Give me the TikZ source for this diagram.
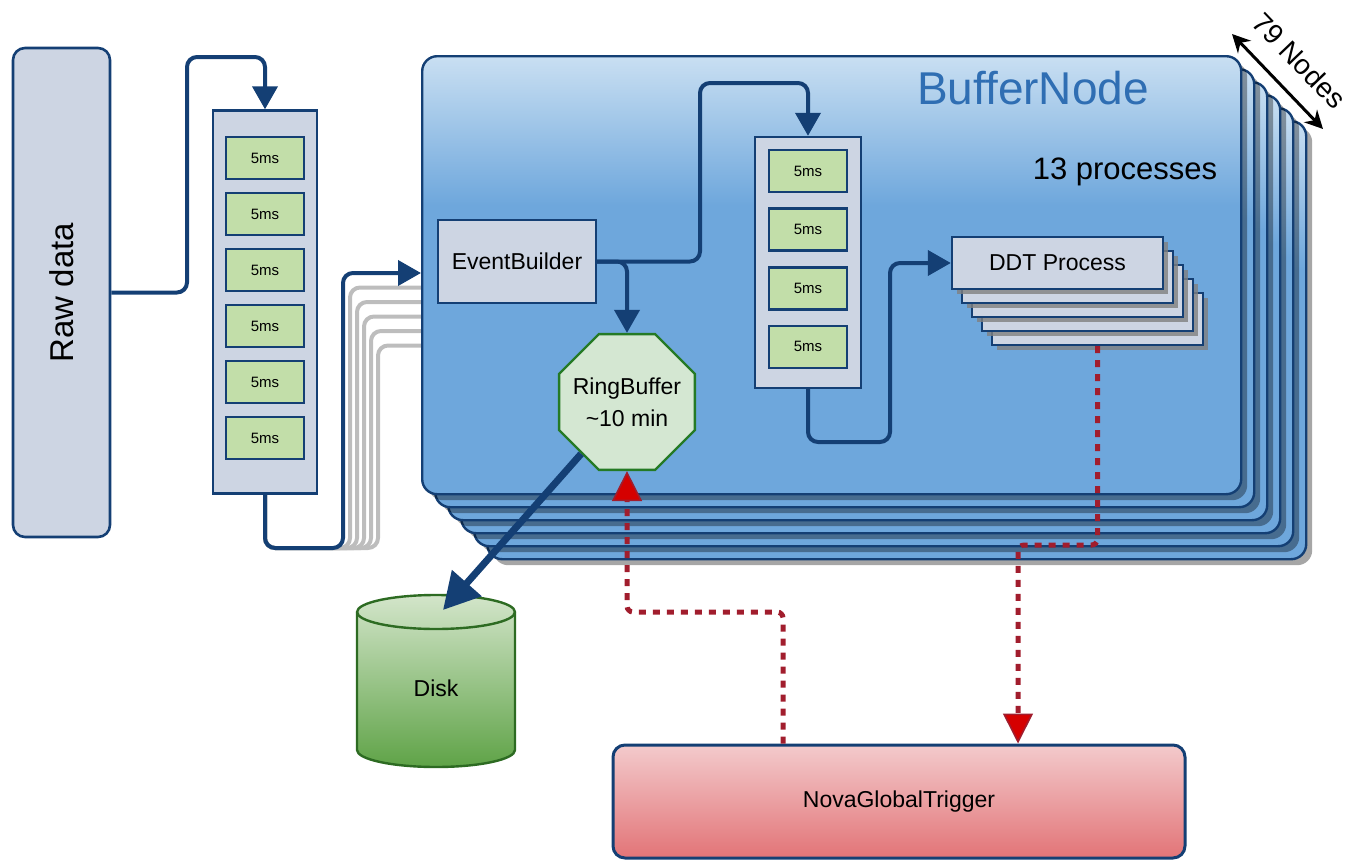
\documentclass[tikz,border=0pt]{standalone}
\usepackage{fontspec}
\setmainfont{Liberation Sans}
\usepackage{graphicx}
\usepackage{tikz}
\usetikzlibrary{arrows.meta, positioning, calc, shapes.geometric, shadows}
\pgfdeclarelayer{background}
\pgfsetlayers{background,main}

% colours
\definecolor{navy}{HTML}{143F74}
\definecolor{boxgray}{HTML}{CDD5E3}
\definecolor{cellgreen}{HTML}{C2DEA9}
\definecolor{bufblue}{HTML}{6EA7DC}
\definecolor{buftop}{HTML}{C9DFF2}
\definecolor{titleblue}{HTML}{2F6EB3}
\definecolor{ringfill}{HTML}{D4E7D2}
\definecolor{ringline}{HTML}{257A25}
\definecolor{disktop}{HTML}{D3E5CA}
\definecolor{diskbot}{HTML}{5FA347}
\definecolor{diskline}{HTML}{2D6B22}
\definecolor{trigtop}{HTML}{F3CACC}
\definecolor{trigbot}{HTML}{E27477}
\definecolor{trigline}{HTML}{A11D2D}
\definecolor{tipred}{HTML}{D50000}
\definecolor{wiregray}{HTML}{BDBDBD}

% light top, flat blue below
\pgfdeclareverticalshading{bufshade}{100bp}{color(0bp)=(bufblue); color(25bp)=(bufblue); color(58bp)=(bufblue); color(75bp)=(buftop); color(100bp)=(buftop)}

\newcommand{\fsz}[1]{\fontsize{#1}{#1}\selectfont}

\tikzstyle{flow} = [line width=2pt, draw=navy, rounded corners=5pt, -{Triangle[length=11.5pt,width=12.5pt]}]
\tikzstyle{bigflow} = [line width=3.5pt, draw=navy, -{Triangle[length=18pt,width=19pt]}]
\tikzstyle{trigger} = [line width=2.5pt, draw=trigline, dash pattern=on 3.5pt off 3.5pt, rounded corners=3pt,
    -{Triangle[length=15pt,width=15pt,fill=tipred,line width=0.8pt]}]
\tikzstyle{wire} = [line width=2pt, draw=wiregray, rounded corners=5pt]

\begin{document}
\begin{tikzpicture}[x=0.5pt, y=-0.5pt, node distance=28pt, on grid]
        \tikzstyle{rawbox}=[
            draw=navy, line width=1.3pt,
            fill=boxgray,
            rounded corners=6pt,
            minimum width=48.5pt, minimum height=244.5pt,
            font=\fsz{16.5}
        ]
        \tikzstyle{qbox}=[draw=navy, line width=1.2pt, fill=boxgray, inner sep=0pt]
        \tikzstyle{cell}=[
            draw=navy, line width=1.3pt,
            fill=cellgreen,
            minimum width=39pt, minimum height=21pt, % all queue slots alike
            inner sep=0pt,
            font=\fsz{7.5}
        ]
        \tikzstyle{bufbox}=[
            draw=navy, line width=1.2pt,
            shade, shading=bufshade,
            rounded corners=7.5pt,
            minimum width=409.5pt, minimum height=219pt,
            general shadow={fill=black, opacity=.35, shadow xshift=3pt, shadow yshift=-3pt}
        ]
        \tikzstyle{ddtbox}=[
            draw=navy, line width=1.2pt,
            fill=boxgray,
            minimum width=105.5pt, minimum height=26pt,
            font=\fsz{11.5},
            general shadow={fill=gray, opacity=.8, shadow xshift=2.5pt, shadow yshift=-2.5pt}
        ]
        \tikzstyle{ringbox}=[
            regular polygon, regular polygon sides=8,
            draw=ringline, line width=1.2pt,
            fill=ringfill,
            minimum size=73.5pt, inner sep=0pt
        ]
        \tikzstyle{trigbox}=[
            draw=navy, line width=1.5pt,
            top color=trigtop, bottom color=trigbot,
            rounded corners=6pt,
            minimum width=286pt, minimum height=56.5pt,
            font=\fsz{11.5}
        ]

        \useasboundingbox (0,0) rectangle (1349,862);

        % the buffer nodes, back to front
        \foreach \i in {5,...,1}
            \node[bufbox, anchor=north west] (bn\i) at ({421+13*\i},{55+13*\i}) {};
        \node[bufbox, anchor=north west] (buffer) at (421,55) {};
        \node[text=titleblue, font=\fsz{23}] (title) at (1033,88) {BufferNode};
        \node[font=\fsz{15.5}] (nproc) at (1125,172) {13 processes};

        \coordinate (stackA) at (1232,34);
        \coordinate (stackB) at (1323,129);
        \draw[line width=1.5pt, {Stealth[length=9pt,width=9pt]}-{Stealth[length=9pt,width=9pt]}]
            (stackA) -- (stackB) node[midway, sloped, above=6pt, font=\fsz{14}] {79 Nodes};

        % input side
        \node[rawbox] (raw) at (61.5,292.5) {\rotatebox{90}{Raw data}};
        \node[qbox, minimum width=52pt, minimum height=191.5pt] (lq) at (265,302) {};
        \node[cell] (lc1) at (265,158) {5ms};
        \foreach \n [remember=\n as \p (initially 1)] in {2,...,6}
            \node[cell, below=of lc\p] (lc\n) {5ms};

        % inside the buffer node
        \node[qbox, font=\fsz{11.5}, minimum width=79pt, minimum height=41.5pt] (eb) at (517,261.5) {EventBuilder};
        \node[ringbox, label={[align=center, font={\fontsize{11.5}{16}\selectfont}]center:RingBuffer\\\textasciitilde10 min}] (ring) at (627,402) {};
        \node[qbox, minimum width=53pt, minimum height=125.5pt] (rq) at (808,262.5) {};
        \node[cell] (rc1) at (808,171) {5ms};
        \foreach \n [remember=\n as \p (initially 1)] in {2,...,4}
            \node[cell, below=29.3pt of rc\p] (rc\n) {5ms};

        \foreach \i in {4,...,1}
            \node[ddtbox] (ddt\i) at ({1057.5+10*\i},{263+14*\i}) {};
        \node[ddtbox] (ddt) at (1057.5,263) {DDT Process};

        % disk
        \path[top color=disktop, bottom color=diskbot, draw=diskline, line width=1.2pt]
            (357,612) -- (357,750)
            arc[start angle=180, end angle=360, x radius=39.5pt, y radius=8.5pt]
            -- (515,612)
            arc[start angle=0, end angle=180, x radius=39.5pt, y radius=8.5pt] -- cycle;
        \draw[diskline, line width=1.2pt] (357,612)
            arc[start angle=180, end angle=360, x radius=39.5pt, y radius=8.5pt];
        \node[font=\fsz{11.5}] (disk) at (436,688) {Disk};
        \coordinate (disktop) at (443,610);

        \node[trigbox] (trig) at (899,801.5) {NovaGlobalTrigger};

        % data path
        \draw[flow] (raw.east) -| (187,57) -| (lq.north);
        \draw[flow] (lq.south) |- (343,548) |- ([yshift=-109pt]buffer.north west);
        \draw[flow] (eb.east) -| (700,83) -| (rq.north);
        \draw[flow] (eb.east) -| (ring.north);
        \draw[flow] (rq.south) |- (890,442) |- (ddt.west);
        \draw[bigflow] (ring) -- (disktop);

        % the other buffer nodes' inputs
        \begin{pgfonlayer}{background}
            \foreach \k in {5,...,1}
                \draw[wire] (lq.south) |- ({343+7*\k},548) |- ([yshift={-109pt-7.25pt*\k}]buffer.north west);
        \end{pgfonlayer}

        % trigger requests
        \draw[trigger] (ddt4.south) |- (1018,545) -- ([xshift=59.5pt]trig.north);
        \draw[trigger] ([xshift=-58pt]trig.north) |- (627,612) -- (ring.south);

    \end{tikzpicture}
\end{document}
